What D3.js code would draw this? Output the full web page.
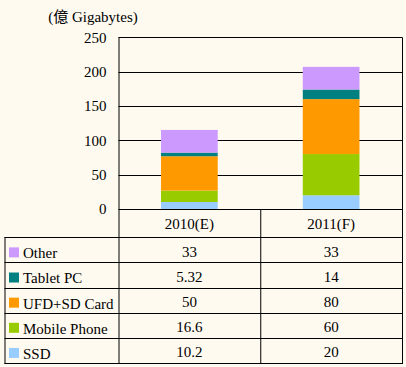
<!DOCTYPE html>
<html><head><meta charset="utf-8">
<script src="https://cdn.jsdelivr.net/npm/d3@7"></script>
<style>
html,body{margin:0;padding:0;background:#FFFAF0;}
svg{display:block;}
text{font-family:"Liberation Serif","DejaVu Serif","Noto Sans CJK TC",serif;font-size:15px;fill:#000;}
</style></head>
<body>
<script>
const categories = ["2010(E)", "2011(F)"];
const seriesNames = ["SSD", "Mobile Phone", "UFD+SD Card", "Tablet PC", "Other"];
const seriesColors = ["#99CCFF", "#99CC00", "#FF9900", "#008080", "#CC99FF"];
const ssd = [10.2, 20];
const mobilePhone = [16.6, 60];
const ufdSdCard = [50, 80];
const tabletPC = [5.32, 14];
const other = [33, 33];
const seriesValues = [ssd, mobilePhone, ufdSdCard, tabletPC, other];
const tickValues = [0, 50, 100, 150, 200, 250];
const tableOrder = [4, 3, 2, 1, 0];
const unitLabel = "(億 Gigabytes)";

(function () {
const W = 406, H = 367;
const FF = "Liberation Serif, DejaVu Serif, Noto Sans CJK TC, serif";
const svg = d3.select("body").append("svg").attr("width", W).attr("height", H);
svg.append("rect").attr("width", W).attr("height", H).attr("fill", "#FFFAF0");

const pLeft = 118.5, pRight = 402, pTop = 37.3, pBottom = 209;
const tableLeft = 4.5, headerBottom = 237.3, tableBottom = 363;

const x = d3.scaleBand().domain(categories).range([pLeft, pRight]).paddingInner(0).paddingOuter(0);
const y = d3.scaleLinear().domain([0, 250]).range([pBottom, pTop]);

// gridlines
svg.append("g").selectAll("line").data(tickValues).join("line")
  .attr("x1", pLeft).attr("x2", pRight)
  .attr("y1", d => Math.round(y(d)) + 0.5).attr("y2", d => Math.round(y(d)) + 0.5)
  .attr("stroke", "#000").attr("stroke-width", 1);

// stacked bars
const data = categories.map((c, i) => {
  const o = {cat: c};
  seriesNames.forEach((s, j) => o[s] = seriesValues[j][i]);
  return o;
});
const stack = d3.stack().keys(seriesNames)(data);
const bw = x.bandwidth() * 0.4;
svg.append("g").selectAll("g").data(stack).join("g")
  .attr("fill", (d, i) => seriesColors[i])
  .selectAll("rect").data(d => d).join("rect")
  .attr("x", d => x(d.data.cat) + x.bandwidth() / 2 - bw / 2)
  .attr("width", bw)
  .attr("y", d => y(d[1]))
  .attr("height", d => y(d[0]) - y(d[1]));

// left axis tick labels
const yAxis = d3.axisLeft(y).tickValues(tickValues).tickSize(0).tickPadding(0);
const ga = svg.append("g").attr("transform", `translate(${pLeft - 12},0)`).call(yAxis);
ga.select(".domain").remove();
ga.attr("font-family", FF).attr("font-size", 15);
ga.selectAll("text").attr("dy", "0.33em");

// plot frame lines
svg.append("line").attr("x1", pLeft + 0.5).attr("x2", pLeft + 0.5).attr("y1", pTop).attr("y2", tableBottom).attr("stroke", "#000");
svg.append("line").attr("x1", pRight + 0.5).attr("x2", pRight + 0.5).attr("y1", pTop).attr("y2", tableBottom).attr("stroke", "#000");

// unit label
svg.append("text").attr("x", 93).attr("y", 22.3).attr("text-anchor", "middle").text(unitLabel);

// data table
const rowH = (tableBottom - headerBottom) / seriesNames.length;
svg.append("g").selectAll("text").data(categories).join("text")
  .attr("x", d => x(d) + x.bandwidth() / 2)
  .attr("y", 229.3)
  .attr("text-anchor", "middle").text(d => d);
svg.append("line").attr("x1", x(categories[1]) + 0.5).attr("x2", x(categories[1]) + 0.5)
  .attr("y1", pBottom).attr("y2", tableBottom).attr("stroke", "#000");
const hl = [headerBottom].concat(tableOrder.map((s, k) => headerBottom + rowH * (k + 1)));
svg.append("g").selectAll("line").data(hl).join("line")
  .attr("x1", tableLeft).attr("x2", pRight + 1)
  .attr("y1", d => Math.round(d) + 0.5).attr("y2", d => Math.round(d) + 0.5)
  .attr("stroke", "#000");
svg.append("line").attr("x1", tableLeft + 0.5).attr("x2", tableLeft + 0.5)
  .attr("y1", Math.round(headerBottom)).attr("y2", Math.round(tableBottom) + 1).attr("stroke", "#000");

const rows = svg.append("g").selectAll("g").data(tableOrder).join("g")
  .attr("transform", (s, k) => `translate(0,${headerBottom + rowH * k})`);
rows.append("rect").attr("x", 9).attr("y", rowH / 2 - 2.5).attr("width", 10).attr("height", 10)
  .attr("fill", s => seriesColors[s]);
rows.append("text").attr("x", 23).attr("y", 21)
  .text(s => seriesNames[s]);
rows.each(function (s) {
  d3.select(this).selectAll("text.v").data(categories).join("text").attr("class", "v")
    .attr("x", c => x(c) + x.bandwidth() / 2)
    .attr("y", 19.6)
    .attr("text-anchor", "middle")
    .text((c, i) => seriesValues[s][i]);
});
})();
</script>
</body></html>
